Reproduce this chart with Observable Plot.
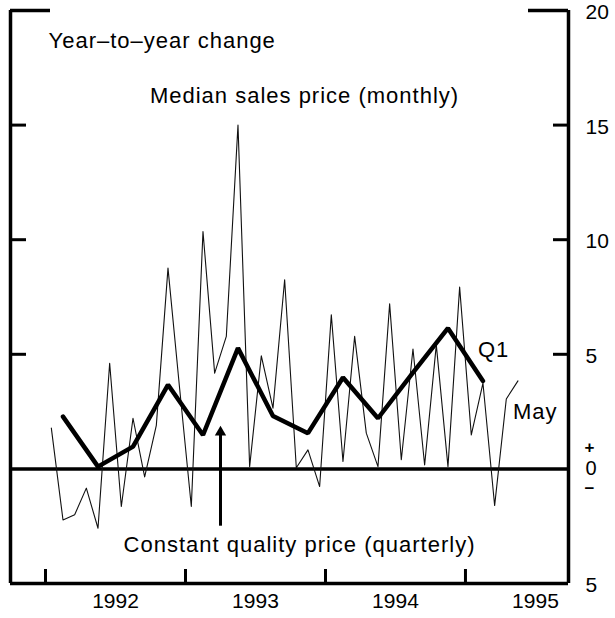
<!DOCTYPE html>
<html><head><meta charset="utf-8">
<script src="https://cdn.jsdelivr.net/npm/d3@7"></script>
<script src="https://cdn.jsdelivr.net/npm/@observablehq/plot@0.6"></script>
<style>
body{margin:0;background:#fff}
svg{font-family:"Liberation Sans",Arial,Helvetica,sans-serif}
g[aria-label="text"] text{letter-spacing:1px}
</style>
</head><body><div id="chart"></div>
<script>
// Monthly median sales price, year-to-year % change, Jan 1992 .. May 1995
const monthlyStartYear = 1992;
const monthlyValues = [
  1.78, -2.23, -2.0, -0.84, -2.59, 4.61, -1.64, 2.21, -0.35, 1.9, 8.76, 3.5,
  -1.64, 10.36, 4.18, 5.78, 15.0, 0.1, 4.93, 2.65, 8.25, 0.05, 0.83, -0.77,
  6.72, 0.32, 5.78, 1.56, 0.1, 7.2, 0.4, 5.23, 0.17, 5.41, 0.1, 7.93,
  1.48, 3.74, -1.6, 3.05, 3.84
];
// Constant quality price, quarterly, Q1 1992 .. Q1 1995
const quarterlyValues = [2.28, 0.1, 0.97, 3.67, 1.48, 5.27, 2.31, 1.56, 3.99, 2.21, 4.2, 6.14, 3.84];

const yearTicks = [1992, 1993, 1994, 1995];
const yTickValues = [20, 15, 10, 5, -5];
const innerTickValues = [5, 10, 15];
const zeroSigns = ["+", "0", "−"];
const xDomain = [1991.75, 1995.736];
const yDomain = [-5, 20];
const arrowAt = [1993.25];
const arrowRange = [-2.5, 1.6];

const monthly = monthlyValues.map((v, i) => ({t: monthlyStartYear + (i + 0.5) / 12, v}));
const quarterly = quarterlyValues.map((v, i) => ({t: monthlyStartYear + (3 * i + 1.5) / 12, v}));

const W = 615, H = 618, mL = 10, mR = 47, mT = 10, mB = 35;
const pw = W - mL - mR, ph = H - mT - mB;
const FS = 22;

const chart = Plot.plot({
  width: W, height: H,
  marginLeft: mL, marginRight: mR, marginTop: mT, marginBottom: mB,
  style: {background: "#fff", color: "#000", fontSize: FS + "px", overflow: "visible"},
  x: {domain: xDomain},
  y: {domain: yDomain},
  marks: [
    Plot.ruleY([0], {stroke: "#000", strokeWidth: 3.5}),
    Plot.line(monthly, {x: "t", y: "v", stroke: "#111", strokeWidth: 1.1}),
    Plot.line(quarterly, {x: "t", y: "v", stroke: "#000", strokeWidth: 4.5, strokeLinejoin: "miter"}),
    Plot.ruleX(arrowAt, {x: d => d, y1: arrowRange[0], y2: arrowRange[1], stroke: "#000", strokeWidth: 3}),
    Plot.dot(arrowAt, {x: d => d, y: arrowRange[1], symbol: "triangle", r: 4.2, fill: "#000"}),
    // frame
    Plot.ruleX(xDomain, {x: d => d, stroke: "#000", strokeWidth: 3.5}),
    Plot.ruleY([yDomain[0]], {y: d => d, stroke: "#000", strokeWidth: 3.5}),
    Plot.tickY([yDomain[1]], {y: d => d, insetLeft: pw - 40, stroke: "#000", strokeWidth: 3.5}),
    Plot.tickY([yDomain[1]], {y: d => d, insetRight: pw - 40, stroke: "#000", strokeWidth: 3.5}),
    // inward ticks
    Plot.tickY(innerTickValues, {y: d => d, insetLeft: pw - 15, stroke: "#000", strokeWidth: 3}),
    Plot.tickY(innerTickValues, {y: d => d, insetRight: pw - 16, stroke: "#000", strokeWidth: 3}),
    Plot.tickX(yearTicks, {x: d => d, insetTop: ph - 14, stroke: "#000", strokeWidth: 3}),
    // axes labels
    Plot.axisX(yearTicks.map(d => d + 0.5), {tickSize: 0, tickPadding: 10, fontSize: 21, tickFormat: d => String(Math.floor(d)), label: null}),
    Plot.axisY(yTickValues, {anchor: "right", tickSize: 0, tickPadding: 17, dy: 2, fontSize: 21, tickFormat: d => String(Math.abs(d)), label: null}),
    Plot.text([0], {y: d => d, text: () => zeroSigns[0], frameAnchor: "right", dx: 16, dy: -21, textAnchor: "start", lineAnchor: "middle", fontSize: 17, fontWeight: "bold"}),
    Plot.text([0], {y: d => d, text: () => zeroSigns[1], frameAnchor: "right", dx: 17, dy: 0, textAnchor: "start", lineAnchor: "middle", fontSize: 20}),
    Plot.text([0], {y: d => d, text: () => zeroSigns[2], frameAnchor: "right", dx: 16, dy: 20, textAnchor: "start", lineAnchor: "middle", fontSize: 17, fontWeight: "bold"}),
    // annotations
    Plot.text(["Year–to–year change"], {text: d => d, frameAnchor: "top-left", dx: 38, dy: 37, textAnchor: "start", lineAnchor: "bottom", fontSize: FS}),
    Plot.text(["Median sales price (monthly)"], {text: d => d, frameAnchor: "top-left", dx: 294, dy: 92, textAnchor: "middle", lineAnchor: "bottom", fontSize: FS}),
    Plot.text(["Constant quality price (quarterly)"], {text: d => d, frameAnchor: "top-left", dx: 289, dy: 541, textAnchor: "middle", lineAnchor: "bottom", fontSize: FS}),
    Plot.text(quarterly.slice(-1), {x: "t", y: "v", text: () => "Q1", dx: -5, dy: -24, textAnchor: "start", lineAnchor: "bottom", fontSize: FS}),
    Plot.text(monthly.slice(-1), {x: "t", y: "v", text: () => "May", dx: -5, dy: 38, textAnchor: "start", lineAnchor: "bottom", fontSize: FS})
  ]
});
document.getElementById("chart").appendChild(chart);
</script>
</body></html>
